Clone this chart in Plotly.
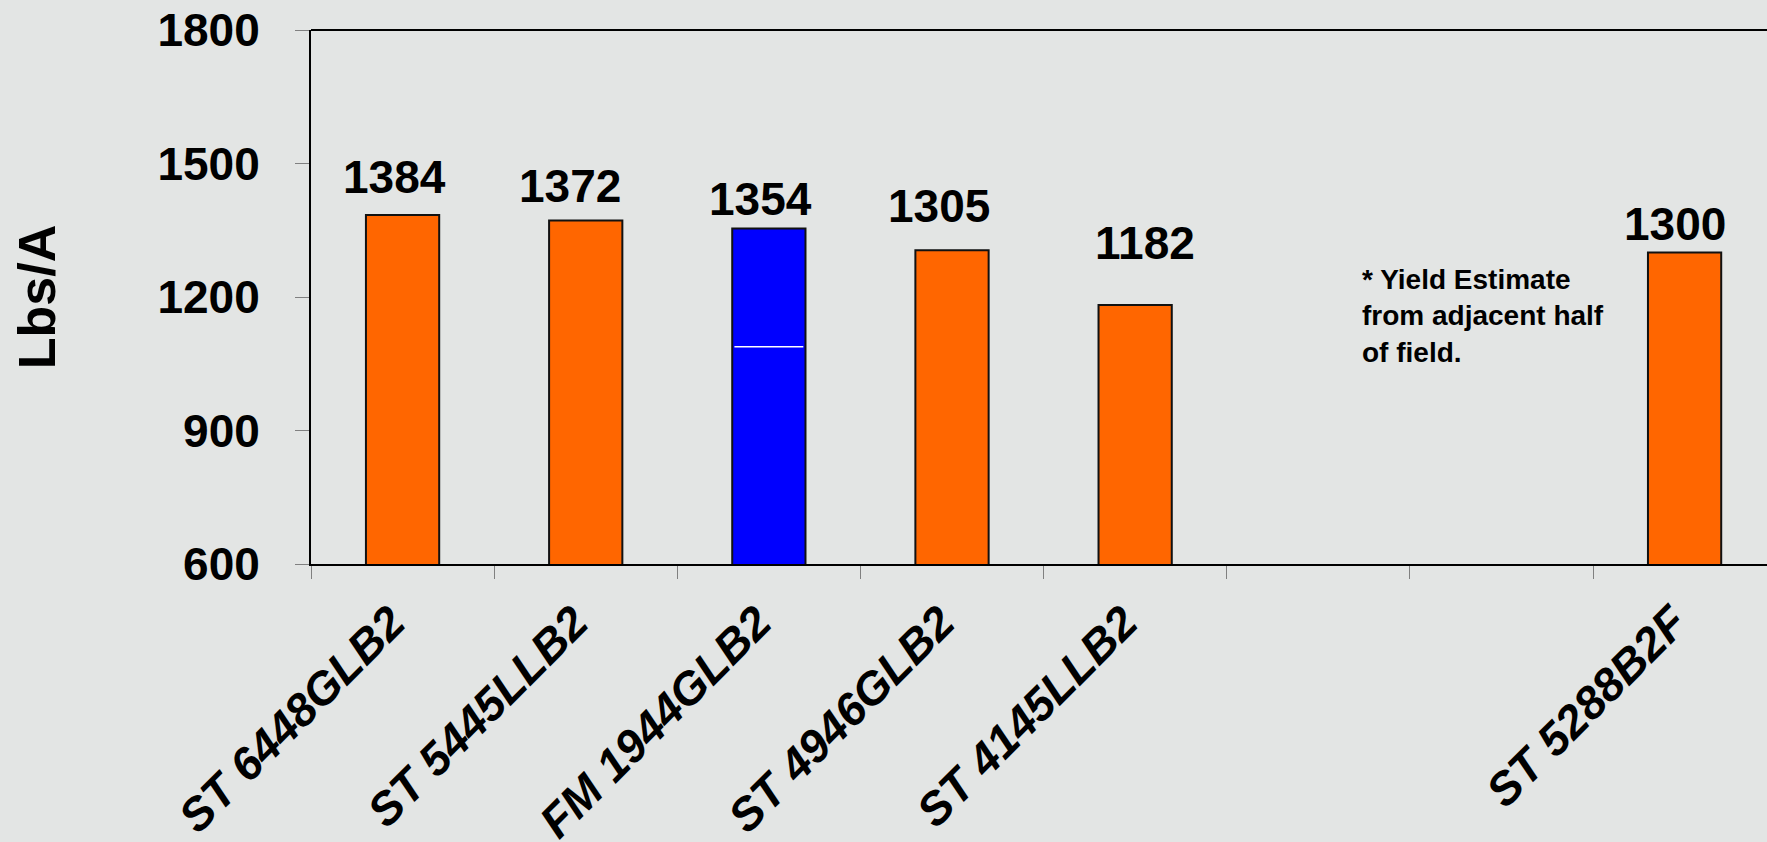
import plotly.graph_objects as go

# ---- data ----
categories = ["ST 6448GLB2", "ST 5445LLB2", "FM 1944GLB2", "ST 4946GLB2",
              "ST 4145LLB2", " ", "  ", "ST 5288B2F"]
yield_lbs = [1384, 1372, 1354, 1305, 1182, None, None, 1300]
split_value = [None, None, 1088, None, None, None, None, None]
y_ticks = [600, 900, 1200, 1500, 1800]
note_text = "* Yield Estimate<br>from adjacent half<br>of field."

# ---- styling / label offsets (px) ----
label_dx = [-8, -16, -8, -13, 10, 0, 0, -10]
label_gap = [20, 16, 11, 26, 44, 0, 0, 11]
FONT = "Liberation Sans, Arial, sans-serif"
BG = "#e3e5e4"
BAR_W = 0.4
colors = ["#0000FF" if c.startswith("FM") else "#FF6600" for c in categories]

fig = go.Figure()
fig.add_trace(go.Bar(
    x=categories, y=yield_lbs, width=BAR_W,
    marker=dict(color=colors, line=dict(color="#111111", width=2)),
    hoverinfo="x+y", showlegend=False,
))

# thin white split line inside the highlighted bar
for i, s in enumerate(split_value):
    if s is None:
        continue
    fig.add_shape(type="line", xref="x", yref="y",
                  x0=i - BAR_W / 2 + 0.012, x1=i + BAR_W / 2 - 0.012, y0=s, y1=s,
                  line=dict(color="white", width=1.5))

for c, v, dx, gap in zip(categories, yield_lbs, label_dx, label_gap):
    if v is None:
        continue
    fig.add_annotation(
        x=c, y=v, text=f"<b>{v}</b>", showarrow=False,
        yanchor="bottom", xanchor="center", xshift=dx, yshift=gap - 10,
        font=dict(family=FONT, size=46, color="black"),
    )

fig.add_annotation(
    xref="paper", yref="paper", x=(1360 - 311) / 1456, y=(564 - 262) / 534,
    xanchor="left", yanchor="top", align="left", showarrow=False,
    text=f"<b>{note_text}</b>",
    font=dict(family=FONT, size=28, color="black"),
)

fig.add_shape(type="line", xref="paper", yref="paper", x0=0, x1=1, y0=1, y1=1,
              line=dict(color="black", width=2))

fig.update_layout(
    width=1767, height=842,
    margin=dict(l=311, r=0, t=30, b=278, autoexpand=False),
    paper_bgcolor=BG, plot_bgcolor=BG,
    font=dict(family=FONT, color="black"),
    bargap=0.6,
)
fig.update_xaxes(
    type="category", categoryorder="array", categoryarray=categories,
    range=[-0.5, 7.45], tickson="boundaries", automargin=False,
    ticks="outside", ticklen=13, tickwidth=1, tickcolor="#808080",
    showline=True, linecolor="black", linewidth=2,
    showgrid=False, tickangle=-45, ticklabelstandoff=11, ticklabelshift=-11,
    tickfont=dict(family=FONT, size=46, color="black", weight="bold", style="italic"),
)
fig.update_yaxes(
    range=[600, 1800], tickvals=y_ticks, automargin=False,
    ticks="outside", ticklen=14, tickwidth=1, tickcolor="#808080",
    showline=True, linecolor="black", linewidth=2,
    showgrid=False, zeroline=False, ticklabelstandoff=26,
    tickfont=dict(family=FONT, size=46, color="black", weight="bold"),
    title=dict(text="<b>Lbs/A</b>", font=dict(family=FONT, size=52, color="black"),
               standoff=85),
)

fig.write_html(
    "out.html",
    config={"displayModeBar": False},
    post_script="document.body.style.margin='0';document.body.style.overflow='hidden';",
)
